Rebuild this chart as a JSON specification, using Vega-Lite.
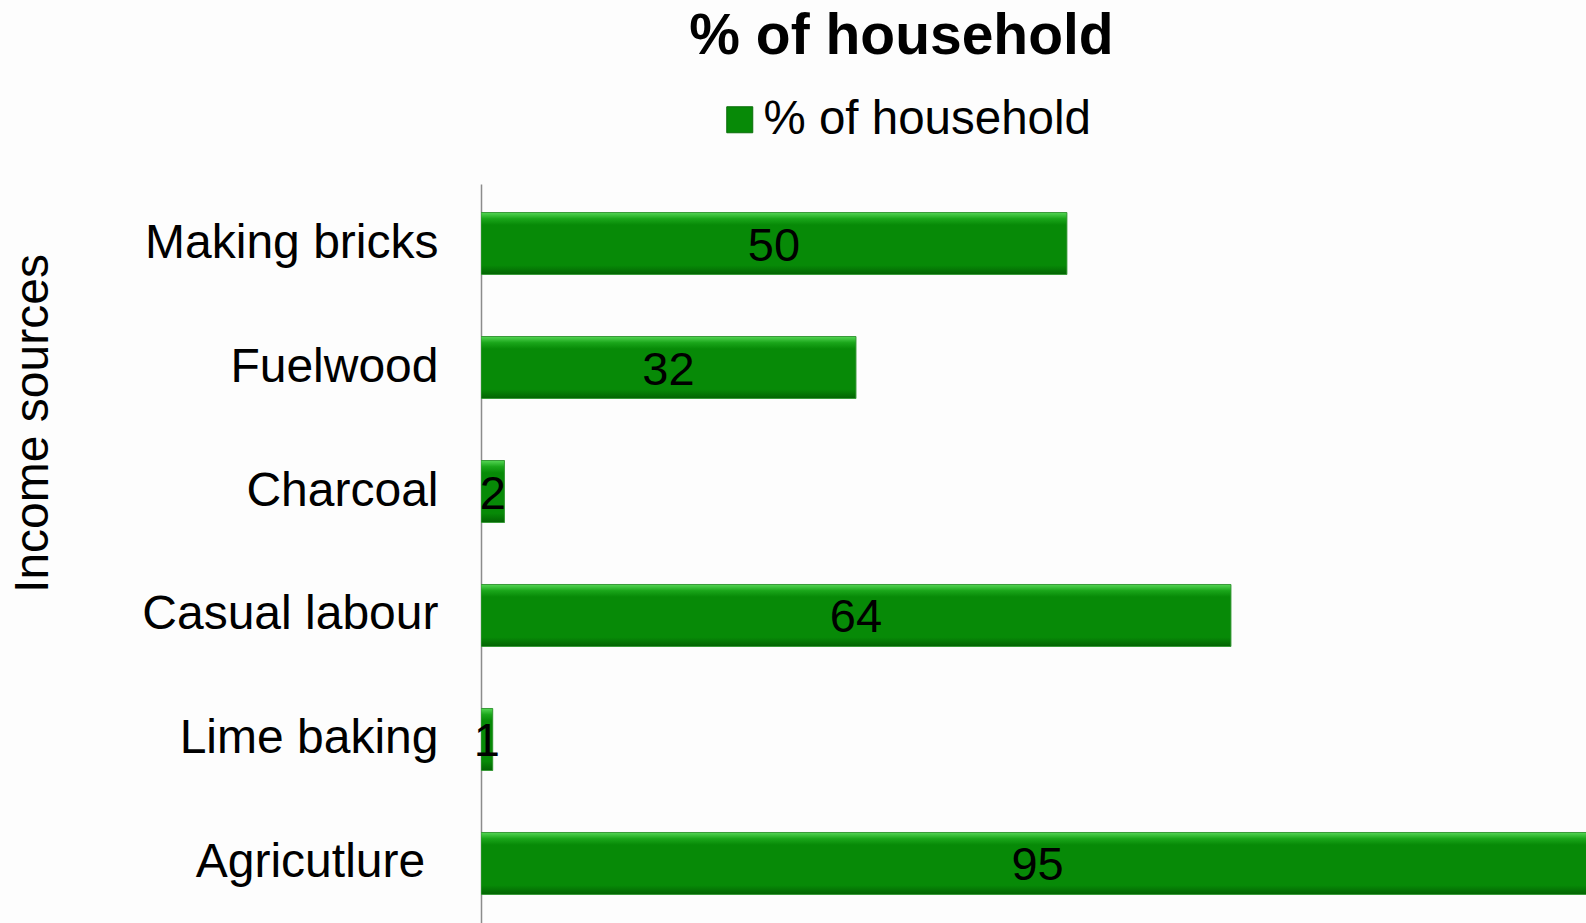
{
  "$schema": "https://vega.github.io/schema/vega-lite/v6.json",
  "autosize": {"type": "none"},
  "padding": {"left": 481, "top": 184, "right": 0, "bottom": 0},
  "width": 1105,
  "height": 739,
  "background": "#fdfdfd",
  "title": {
    "text": "% of household",
    "font": "Liberation Sans",
    "fontSize": 57,
    "fontWeight": "bold",
    "color": "#000000",
    "anchor": "middle",
    "frame": "group",
    "dx": -132,
    "offset": 30
  },
  "config": {
    "view": {"stroke": null},
    "font": "Liberation Sans"
  },
  "data": {
    "values": [
      {"source": "Making bricks", "pct": 50},
      {"source": "Fuelwood", "pct": 32},
      {"source": "Charcoal", "pct": 2},
      {"source": "Casual labour", "pct": 64},
      {"source": "Lime baking", "pct": 1},
      {"source": "Agricutlure", "pct": 95}
    ]
  },
  "encoding": {
    "y": {
      "field": "source",
      "type": "nominal",
      "sort": null,
      "scale": {"paddingInner": 0.5, "paddingOuter": 0.23},
      "axis": {
        "title": "Income sources",
        "titleFont": "Liberation Sans",
        "titleFontSize": 48,
        "titleFontWeight": "normal",
        "titleColor": "#000000",
        "titleAngle": -90,
        "titleBaseline": "alphabetic",
        "titleAlign": "center",
        "titleX": -434,
        "titleY": 239,
        "labelFont": "Liberation Sans",
        "labelFontSize": 48,
        "labelColor": "#000000",
        "labelPadding": 43,
        "labelLimit": 500,
        "labelExpr": "datum.value === 'Agricutlure' ? datum.value + '\u00a0\u200c' : datum.value",
        "ticks": false,
        "grid": false,
        "domainColor": "#8c8c8c",
        "domainWidth": 1.5
      }
    }
  },
  "layer": [
    {
      "mark": {"type": "bar", "clip": true},
      "encoding": {
        "x": {
          "field": "pct",
          "type": "quantitative",
          "scale": {"domain": [0, 94.3], "nice": false, "zero": true},
          "axis": null
        },
        "color": {
          "datum": "% of household",
          "type": "nominal",
          "scale": {"range": ["#078a07"]},
          "legend": {
            "title": null,
            "orient": "none",
            "legendX": 235,
            "legendY": -88,
            "symbolType": "square",
            "symbolSize": 676,
            "symbolStrokeColor": "#0a6e0a",
            "symbolStrokeWidth": 1,
            "labelFont": "Liberation Sans",
            "labelFontSize": 47.5,
            "labelColor": "#000000",
            "labelOffset": 0,
            "labelLimit": 600
          }
        }
      }
    },
    {
      "mark": {
        "type": "bar",
        "clip": true,
        "stroke": "#3a9a3a",
        "strokeWidth": 1,
        "fill": {
          "gradient": "linear",
          "x1": 0, "y1": 0, "x2": 0, "y2": 1,
          "stops": [
            {"offset": 0, "color": "#55d655"},
            {"offset": 0.1, "color": "#1aa61a"},
            {"offset": 0.2, "color": "#078a07"},
            {"offset": 0.85, "color": "#078a07"},
            {"offset": 1, "color": "#036303"}
          ]
        }
      },
      "encoding": {
        "x": {
          "field": "pct",
          "type": "quantitative",
          "scale": {"domain": [0, 94.3], "nice": false, "zero": true},
          "axis": null
        }
      }
    },
    {
      "mark": {
        "type": "text",
        "font": "Liberation Sans",
        "fontSize": 47,
        "color": "#000000",
        "baseline": "middle",
        "align": "center",
        "dy": 3
      },
      "encoding": {
        "x": {
          "field": "pct",
          "type": "quantitative",
          "scale": {"domain": [0, 188.6], "nice": false, "zero": true},
          "axis": null
        },
        "text": {"field": "pct", "type": "quantitative"}
      }
    }
  ],
  "resolve": {"scale": {"x": "independent"}}
}
